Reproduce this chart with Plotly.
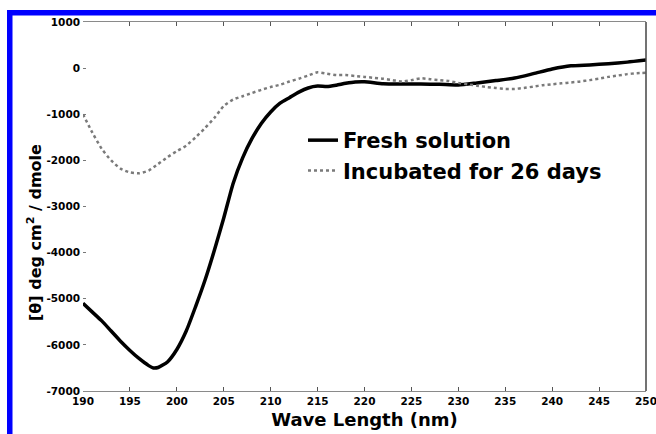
import plotly.graph_objects as go

# ---------------- data ----------------
fresh_wl = [190, 191, 192, 193, 194, 195, 196, 197, 197.5, 198, 199, 200, 201, 202, 203,
            204, 205, 206, 207, 208, 209, 210, 211, 212, 213, 214, 215, 216, 217, 218,
            219, 220, 222, 224, 226, 228, 230, 232, 234, 236, 238, 240, 242, 244, 246,
            248, 250]
fresh_val = [-5100, -5290, -5480, -5700, -5920, -6120, -6300, -6450, -6500, -6490, -6370,
             -6100, -5700, -5170, -4600, -3950, -3250, -2500, -1950, -1530, -1200, -950,
             -760, -640, -520, -430, -390, -400, -370, -330, -300, -295, -340, -345, -345,
             -350, -365, -320, -270, -215, -120, -20, 50, 70, 95, 130, 175]

incub_wl = [190, 191, 192, 193, 194, 195, 196, 197, 198, 199, 200, 201, 202, 203, 204,
            205, 206, 207, 208, 209, 210, 211, 212, 213, 214, 215, 216, 217, 218, 219,
            220, 221, 222, 223, 224, 225, 226, 227, 228, 229, 230, 231, 232, 233, 234,
            235, 236, 237, 238, 239, 240, 241, 242, 243, 244, 245, 246, 247, 248, 249, 250]
incub_val = [-1000, -1400, -1750, -2000, -2180, -2260, -2280, -2220, -2080, -1930, -1800,
             -1680, -1500, -1300, -1080, -820, -680, -610, -540, -470, -410, -360, -290,
             -230, -160, -90, -120, -150, -150, -170, -190, -210, -230, -260, -290, -260,
             -220, -240, -260, -280, -320, -350, -380, -410, -430, -450, -450, -430, -400,
             -370, -350, -330, -310, -290, -260, -230, -190, -160, -130, -110, -100]

x_ticks = [190, 195, 200, 205, 210, 215, 220, 225, 230, 235, 240, 245, 250]
y_ticks = [1000, 0, -1000, -2000, -3000, -4000, -5000, -6000, -7000]

series_names = ["Fresh solution", "Incubated for 26 days"]
x_title = "Wave Length (nm)"
y_title = "[θ] deg cm<sup>2</sup> / dmole"

# ---------------- layout constants (pixels) ----------------
W, H = 656, 434
L, R, T, B = 83, 646, 22, 391
FONT = "DejaVu Sans"


def px_x(p):
    return (p - L) / (R - L)


def px_y(p):
    return (B - p) / (B - T)


fig = go.Figure()
fig.add_trace(go.Scatter(
    x=fresh_wl, y=fresh_val, mode="lines", name=series_names[0],
    line=dict(color="black", width=3.5, shape="spline", smoothing=0.6)))
fig.add_trace(go.Scatter(
    x=incub_wl, y=incub_val, mode="lines", name=series_names[1],
    line=dict(color="#7a7a7a", width=2.5, dash="dot", shape="spline", smoothing=0.6)))

tickfont = dict(family=FONT, size=10.5, color="black", weight="bold")

fig.update_layout(
    width=W, height=H,
    margin=dict(l=L, r=W - R, t=T, b=H - B, pad=0, autoexpand=False),
    paper_bgcolor="white", plot_bgcolor="white",
    showlegend=True,
    legend=dict(
        x=px_x(303), y=px_y(120), xanchor="left", yanchor="top",
        bgcolor="rgba(0,0,0,0)", borderwidth=0,
        font=dict(family=FONT, size=21, color="black", weight="bold"),
        tracegroupgap=0,
    ),
    xaxis=dict(
        range=[190, 250.0001], tickvals=x_ticks, ticktext=[str(v) for v in x_ticks],
        showgrid=False, zeroline=False,
        showline=True, linecolor="#8a8a8a", linewidth=1, mirror="ticks",
        ticks="inside", ticklen=4, tickcolor="#555", tickwidth=1,
        tickfont=tickfont, ticklabeloverflow="allow", automargin=False,
        title=dict(text=x_title, font=dict(family=FONT, size=18, color="black", weight="bold"),
                   standoff=7),
    ),
    yaxis=dict(
        range=[-7000, 1000], tickvals=y_ticks, ticktext=[str(v) for v in y_ticks],
        showgrid=False, zeroline=False, showline=False,
        ticks="inside", ticklen=3, tickcolor="#777", tickwidth=1,
        tickfont=tickfont, ticklabelstandoff=2, automargin=False,
    ),
    annotations=[dict(
        text=y_title, xref="paper", yref="paper",
        x=px_x(34), y=px_y(233), xanchor="center", yanchor="middle",
        textangle=-90, showarrow=False,
        font=dict(family=FONT, size=16, color="black", weight="bold"),
    )],
    shapes=[
        # right edge of the axes box
        dict(type="line", xref="paper", yref="paper", x0=1, x1=1, y0=0, y1=1,
             line=dict(color="#444", width=1.5), layer="above"),
        # blue frame: top band
        dict(type="rect", xref="paper", yref="paper",
             x0=px_x(7), x1=px_x(W + 5), y0=px_y(15.5), y1=px_y(10),
             fillcolor="#0000ff", line=dict(width=0), layer="above"),
        # blue frame: left band
        dict(type="rect", xref="paper", yref="paper",
             x0=px_x(7), x1=px_x(12.5), y0=px_y(H + 5), y1=px_y(10),
             fillcolor="#0000ff", line=dict(width=0), layer="above"),
    ],
)

fig.write_html("out.html")
